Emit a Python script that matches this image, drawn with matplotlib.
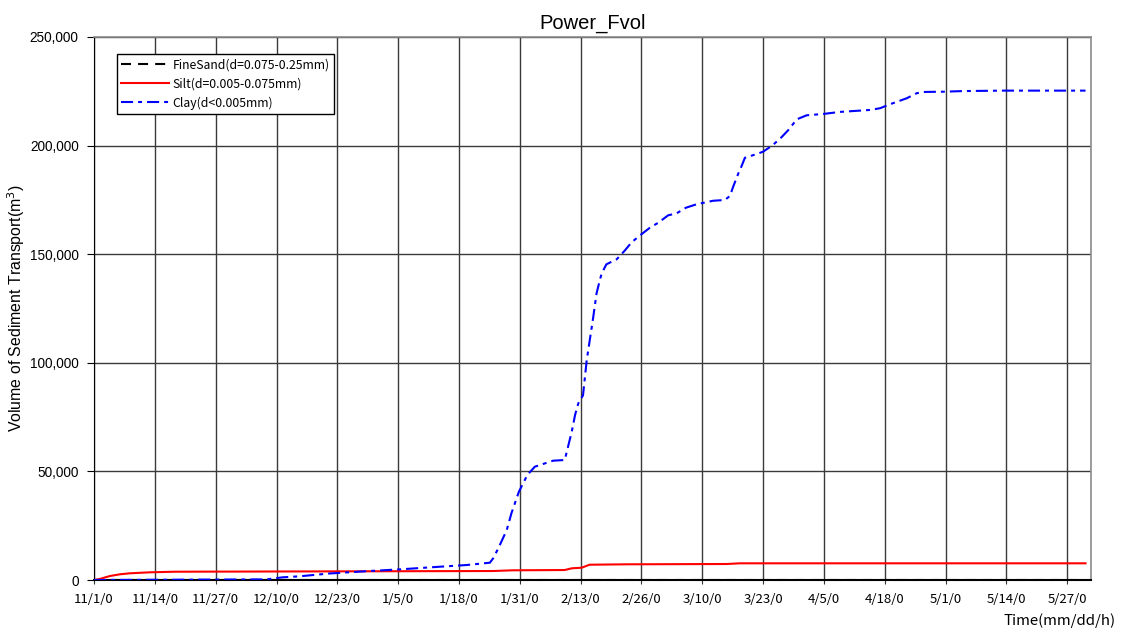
import datetime
import numpy as np
import matplotlib
matplotlib.use("Agg")
import matplotlib.pyplot as plt

# cumulative sediment volume per grain class (days since 11/1, m3)
clay_days = [0, 36.9, 40.3, 43.9, 50.3, 58.9, 65.3, 73.9, 79.6, 84.6, 85.3, 86.4,
             88.2, 89.2, 90.8, 92.6, 94.2, 98.1, 100.6, 101.3, 102.1, 102.8, 103.5,
             104.5, 105.3, 106.6, 107.4, 108.1, 108.5, 109.5, 111.7, 113.4, 114.9,
             117.0, 118.8, 120.6, 122.7, 124.5, 126.5, 128.8, 132.3, 134.8, 135.9,
             136.6, 137.7, 138.4, 139.1, 141.6, 143.0, 145.1, 146.9, 148.4, 150.2,
             152.3, 155.8, 159.4, 165.8, 168.0, 169.7, 171.5, 173.7, 175.8, 177.6,
             181.5, 185.8, 194.3, 211.9]
clay_vals = [0, 300, 1240, 1700, 3000, 4140, 4900, 6120, 6900, 7970, 9990, 14600,
             23000, 30700, 40650, 48340, 52160, 54930, 55250, 61370, 68280, 75970,
             81350, 85000, 101300, 119700, 132000, 138100, 141200, 145350, 147650,
             151600, 155500, 159200, 162200, 164500, 167900, 168800, 171400, 173000,
             174600, 174950, 176800, 181100, 187200, 190600, 194400, 196100, 197200,
             200300, 203800, 207200, 212100, 213950, 214550, 215500, 216400, 217200,
             218700, 220100, 221800, 224100, 224700, 224800, 225100, 225300, 225300]

silt_days = [0, 1.2, 3.4, 5.5, 7.6, 11.9, 17.3, 85.3, 89.5, 100.6, 102.1, 104.2,
             105.9, 113.8, 135.2, 138.0, 211.9]
silt_vals = [0, 460, 1840, 2620, 3080, 3545, 3820, 4140, 4470, 4600, 5390, 5660,
             7040, 7230, 7370, 7690, 7690]

sand_days = [0, 211.9]
sand_vals = [0, 0]

start = datetime.date(1999, 11, 1)
tick_days = np.arange(0, 209, 13)
tick_labels = []
for d in tick_days:
    t = start + datetime.timedelta(days=int(d))
    tick_labels.append(f"{t.month}/{t.day}/0")

y_ticks = [0, 50000, 100000, 150000, 200000, 250000]

jp = ["Noto Sans CJK JP", "DejaVu Sans"]
plt.rcParams["font.family"] = ["Liberation Sans", "DejaVu Sans"]

fig = plt.figure(figsize=(11.22, 6.31), dpi=100)
ax = fig.add_axes([0.0838, 0.0808, 0.8883, 0.8606])

ax.plot(sand_days, sand_vals, color="black", lw=1.5, linestyle=(0, (4.8, 3.4)),
        label="FineSand(d=0.075-0.25mm)", zorder=3)
ax.plot(silt_days, silt_vals, color="#ff0000", lw=1.5,
        label="Silt(d=0.005-0.075mm)", zorder=3)
ax.plot(clay_days, clay_vals, color="#0000ff", lw=1.5,
        linestyle=(0, (5.8, 2.4, 1.9, 2.4)),
        label="Clay(d<0.005mm)", zorder=3)

ax.set_xlim(0, 213)
ax.set_ylim(0, 250000)
ax.set_xticks(tick_days)
ax.set_xticklabels(tick_labels, family=jp, fontsize=9.5)
ax.set_yticks(y_ticks)
ax.set_yticklabels([f"{v:,}" for v in y_ticks], fontsize=9.8)
ax.tick_params(axis="x", length=3, pad=6, color="#333333")
ax.tick_params(axis="y", length=5, pad=6)
ax.grid(True, color="#3a3a3a", lw=1.0)
ax.set_axisbelow(True)

for side in ["top", "right"]:
    ax.spines[side].set_color("#8a8a8a")
    ax.spines[side].set_linewidth(1.2)
ax.spines["left"].set_color("black")
ax.spines["bottom"].set_color("black")
ax.spines["bottom"].set_linewidth(1.5)

ax.set_title("Power_Fvol", fontsize=14.5, pad=6)
ax.set_ylabel("Volume of Sediment Transport(m$^3$)", fontsize=11.4)
ax.yaxis.set_label_coords(-0.067, 0.5)
fig.text(0.994, 0.004, "Time(mm/dd/h)", family=jp, fontsize=10.8,
         ha="right", va="bottom")

leg = ax.legend(loc="upper left", bbox_to_anchor=(0.023, 0.969), borderaxespad=0,
                prop={"family": jp, "size": 8.8}, frameon=True, fancybox=False,
                handlelength=3.9, handletextpad=0.3, labelspacing=0.5,
                borderpad=0.35)
leg.get_frame().set_edgecolor("black")
leg.get_frame().set_linewidth(1.0)
leg.get_frame().set_alpha(1)

fig.savefig("out.png", dpi=100)
